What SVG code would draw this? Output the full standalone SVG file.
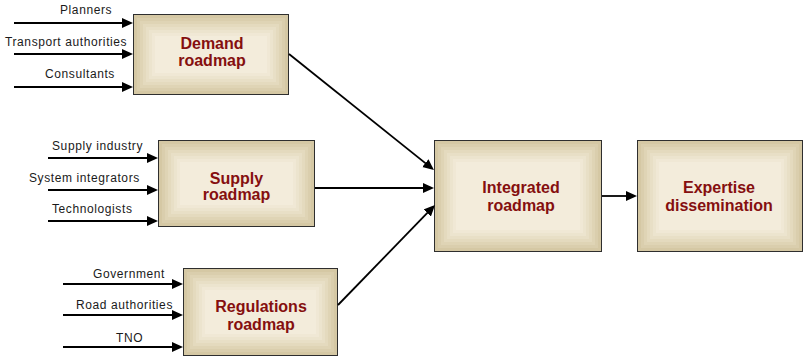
<svg xmlns="http://www.w3.org/2000/svg" width="805" height="356" viewBox="0 0 805 356">
  <defs>
    <marker id="arrow" markerUnits="userSpaceOnUse" markerWidth="12" markerHeight="11" refX="8" refY="5" orient="auto">
      <path d="M0,0 L11,5 L0,10 z" fill="#000"/>
    </marker>
  </defs>
  <style>
    .b0 { fill: #d5c8a4; stroke: #2e2e2e; stroke-width: 1; }
    .b1 { fill: #dacead; }
    .b2 { fill: #dfd4b5; }
    .b3 { fill: #e4dabe; }
    .b4 { fill: #e8dfc6; }
    .b5 { fill: #ece4ce; }
    .b6 { fill: #f0e8d5; }
    .b7 { fill: #f3ecdb; }
    .title { font-family: "Liberation Sans", Arial, sans-serif; font-size: 16px; font-weight: bold; fill: #850f0f; text-anchor: middle; }
    .label { font-family: "Liberation Sans", Arial, sans-serif; font-size: 12px; letter-spacing: 0.6px; fill: #1a1a1a; }
    .conn { stroke: #000; stroke-width: 1.8; fill: none; marker-end: url(#arrow); }
  </style>

  <!-- Demand roadmap -->
  <g id="demand">
    <rect class="b0" x="133.5" y="14.5" width="155" height="80"/>
    <rect class="b1" x="137" y="18" width="148" height="73"/>
    <rect class="b2" x="140" y="21" width="142" height="67"/>
    <rect class="b3" x="143" y="24" width="136" height="61"/>
    <rect class="b4" x="146" y="27" width="130" height="55"/>
    <rect class="b5" x="149" y="30" width="124" height="49"/>
    <rect class="b6" x="152" y="33" width="118" height="43"/>
    <rect class="b7" x="155" y="36" width="112" height="37"/>
    <text class="title" x="212" y="49">Demand</text>
    <text class="title" x="212" y="66">roadmap</text>
  </g>

  <!-- Supply roadmap -->
  <g id="supply">
    <rect class="b0" x="158.5" y="140.5" width="156" height="86"/>
    <rect class="b1" x="162" y="144" width="149" height="79"/>
    <rect class="b2" x="165" y="147" width="143" height="73"/>
    <rect class="b3" x="168" y="150" width="137" height="67"/>
    <rect class="b4" x="171" y="153" width="131" height="61"/>
    <rect class="b5" x="174" y="156" width="125" height="55"/>
    <rect class="b6" x="177" y="159" width="119" height="49"/>
    <rect class="b7" x="180" y="162" width="113" height="43"/>
    <text class="title" x="236.5" y="184">Supply</text>
    <text class="title" x="236.5" y="200">roadmap</text>
  </g>

  <!-- Regulations roadmap -->
  <g id="regulations">
    <rect class="b0" x="183.5" y="268.5" width="154" height="87"/>
    <rect class="b1" x="187" y="272" width="147" height="80"/>
    <rect class="b2" x="190" y="275" width="141" height="74"/>
    <rect class="b3" x="193" y="278" width="135" height="68"/>
    <rect class="b4" x="196" y="281" width="129" height="62"/>
    <rect class="b5" x="199" y="284" width="123" height="56"/>
    <rect class="b6" x="202" y="287" width="117" height="50"/>
    <rect class="b7" x="205" y="290" width="111" height="44"/>
    <text class="title" x="261" y="312">Regulations</text>
    <text class="title" x="261" y="330">roadmap</text>
  </g>

  <!-- Integrated roadmap -->
  <g id="integrated">
    <rect class="b0" x="434.5" y="140.5" width="167" height="111"/>
    <rect class="b1" x="438" y="144" width="160" height="104"/>
    <rect class="b2" x="441" y="147" width="154" height="98"/>
    <rect class="b3" x="444" y="150" width="148" height="92"/>
    <rect class="b4" x="447" y="153" width="142" height="86"/>
    <rect class="b5" x="450" y="156" width="136" height="80"/>
    <rect class="b6" x="453" y="159" width="130" height="74"/>
    <rect class="b7" x="456" y="162" width="124" height="68"/>
    <text class="title" x="521" y="193">Integrated</text>
    <text class="title" x="521" y="211">roadmap</text>
  </g>

  <!-- Expertise dissemination -->
  <g id="expertise">
    <rect class="b0" x="637.5" y="140.5" width="165" height="111"/>
    <rect class="b1" x="641" y="144" width="158" height="104"/>
    <rect class="b2" x="644" y="147" width="152" height="98"/>
    <rect class="b3" x="647" y="150" width="146" height="92"/>
    <rect class="b4" x="650" y="153" width="140" height="86"/>
    <rect class="b5" x="653" y="156" width="134" height="80"/>
    <rect class="b6" x="656" y="159" width="128" height="74"/>
    <rect class="b7" x="659" y="162" width="122" height="68"/>
    <text class="title" x="719" y="193">Expertise</text>
    <text class="title" x="719" y="211">dissemination</text>
  </g>

  <!-- Stakeholder inputs -->
  <g id="inputs">
    <text class="label" x="60" y="14">Planners</text>
    <text class="label" x="5" y="46">Transport authorities</text>
    <text class="label" x="45" y="78">Consultants</text>
    <text class="label" x="52" y="150">Supply industry</text>
    <text class="label" x="29" y="182">System integrators</text>
    <text class="label" x="52" y="213">Technologists</text>
    <text class="label" x="93" y="278">Government</text>
    <text class="label" x="76" y="309">Road authorities</text>
    <text class="label" x="116" y="342">TNO</text>
  </g>

  <!-- Connectors -->
  <g id="connectors">
    <line class="conn" x1="14" y1="23" x2="130" y2="23"/>
    <line class="conn" x1="14" y1="54" x2="130" y2="54"/>
    <line class="conn" x1="14" y1="87" x2="130" y2="87"/>
    <line class="conn" x1="48" y1="158" x2="155" y2="158"/>
    <line class="conn" x1="48" y1="190" x2="155" y2="190"/>
    <line class="conn" x1="48" y1="221" x2="155" y2="221"/>
    <line class="conn" x1="63" y1="284" x2="180" y2="284"/>
    <line class="conn" x1="63" y1="315" x2="180" y2="315"/>
    <line class="conn" x1="63" y1="347" x2="180" y2="347"/>
    <line class="conn" x1="289" y1="54" x2="431.6" y2="168.1"/>
    <line class="conn" x1="315" y1="188" x2="431" y2="188"/>
    <line class="conn" x1="338" y1="305" x2="432.9" y2="207.2"/>
    <line class="conn" x1="602" y1="196" x2="634" y2="196"/>
  </g>
</svg>
